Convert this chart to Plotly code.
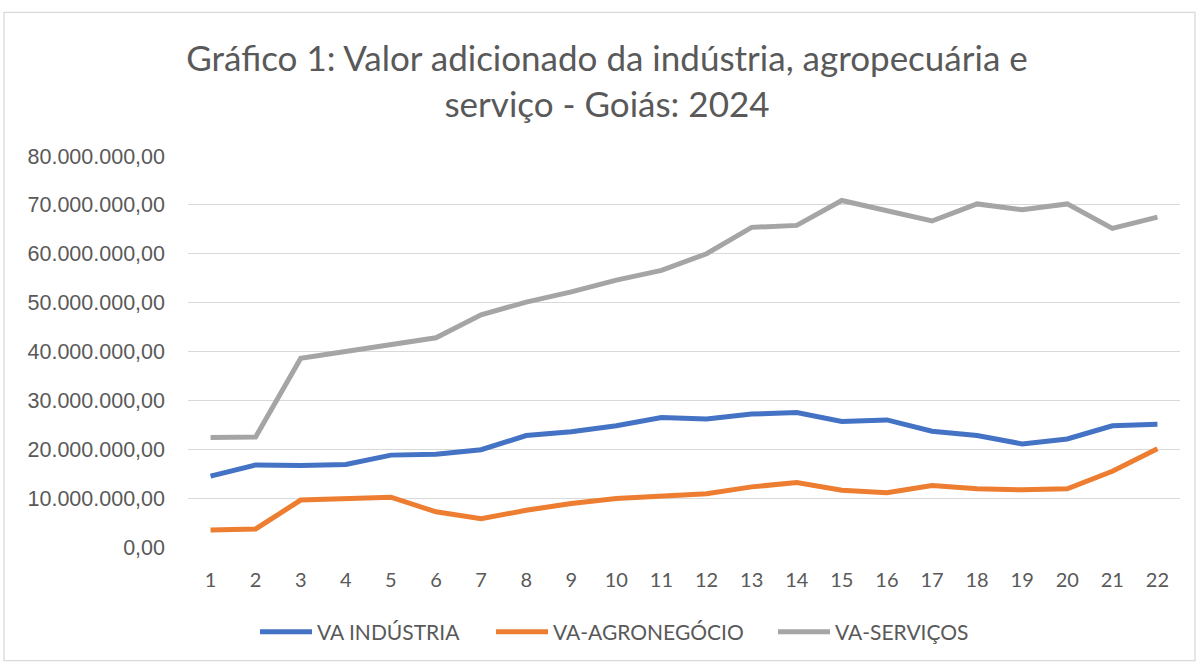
import plotly.graph_objects as go

x_labels = list(range(1, 23))

va_industria = [14.5, 16.8, 16.7, 16.9, 18.8, 19.0, 19.9, 22.8, 23.6, 24.8, 26.5,
                26.2, 27.2, 27.5, 25.7, 26.0, 23.7, 22.8, 21.1, 22.1, 24.8, 25.1]
va_agro = [3.5, 3.7, 9.6, 10.0, 10.2, 7.2, 5.8, 7.5, 8.9, 9.9, 10.4,
           10.9, 12.3, 13.2, 11.6, 11.1, 12.6, 11.9, 11.7, 11.9, 15.5, 20.1]
va_servicos = [22.4, 22.5, 38.6, 40.0, 41.6, 42.8, 47.5, 50.1, 52.2, 54.6, 56.6,
               60.0, 65.4, 65.8, 70.9, 68.8, 66.7, 70.2, 69.0, 70.2, 65.2, 67.5]

series_names = ["VA INDÚSTRIA", "VA-AGRONEGÓCIO", "VA-SERVIÇOS"]
series_values = [va_industria, va_agro, va_servicos]
colors = ["#4472C4", "#ED7D31", "#A5A5A5"]
legend_ids = ["legend", "legend2", "legend3"]
legend_starts = [259, 495, 777]  # approximate swatch start pixels

title_text = "Gráfico 1: Valor adicionado da indústria, agropecuária e<br>serviço - Goiás: 2024"

fig = go.Figure()
for name, vals, c, lid in zip(series_names, series_values, colors, legend_ids):
    fig.add_trace(go.Scatter(
        x=x_labels, y=[v * 1e6 for v in vals], mode="lines", name=name,
        line=dict(color=c, width=5), hoverinfo="skip", legend=lid))

L, R, T, B = 188, 16, 156, 115
W, H = 1196, 663
pw, ph = W - L - R, H - T - B

def px_x(p):
    return (p - L) / pw

def px_y(p):
    return (H - B - p) / ph

leg_common = dict(orientation="h", yanchor="middle", xanchor="left",
                  font=dict(family="Lato", size=21, color="#595959"),
                  itemwidth=52, bgcolor="rgba(0,0,0,0)")

fig.update_layout(
    width=W, height=H,
    margin=dict(l=L, r=R, t=T, b=B, pad=0),
    paper_bgcolor="white", plot_bgcolor="white",
    separators=",.",
    font=dict(family="Lato", color="#595959"),
    title=dict(text=title_text, x=607 / W, xanchor="center", y=1 - 71 / H, yanchor="middle",
               font=dict(family="Lato", size=35, color="#595959")),
    xaxis=dict(range=[0.5, 22.5], tickmode="array", tickvals=x_labels,
               ticktext=[str(v) for v in x_labels], showgrid=False, zeroline=False,
               showline=False, ticks="", ticklabelstandoff=19, automargin=False,
               tickfont=dict(family="Lato", size=20, color="#595959")),
    yaxis=dict(range=[0, 80e6], dtick=10e6, tick0=0, tickformat=",.2f",
               showgrid=True, gridcolor="#D9D9D9", gridwidth=1.3, zeroline=False,
               showline=False, ticks="", ticklabelstandoff=22, automargin=False,
               tickfont=dict(family="Liberation Sans", size=21.5, color="#595959")),
    showlegend=True,
)
for lid, xs in zip(legend_ids, legend_starts):
    fig.update_layout({lid: dict(leg_common, x=px_x(xs - 4), y=px_y(632))})

fig.add_shape(type="rect", xref="paper", yref="paper",
              x0=px_x(4), x1=px_x(1195), y0=px_y(662), y1=px_y(12),
              line=dict(color="#D9D9D9", width=1.3), fillcolor="rgba(0,0,0,0)", layer="below")

fig.write_html("out.html")
